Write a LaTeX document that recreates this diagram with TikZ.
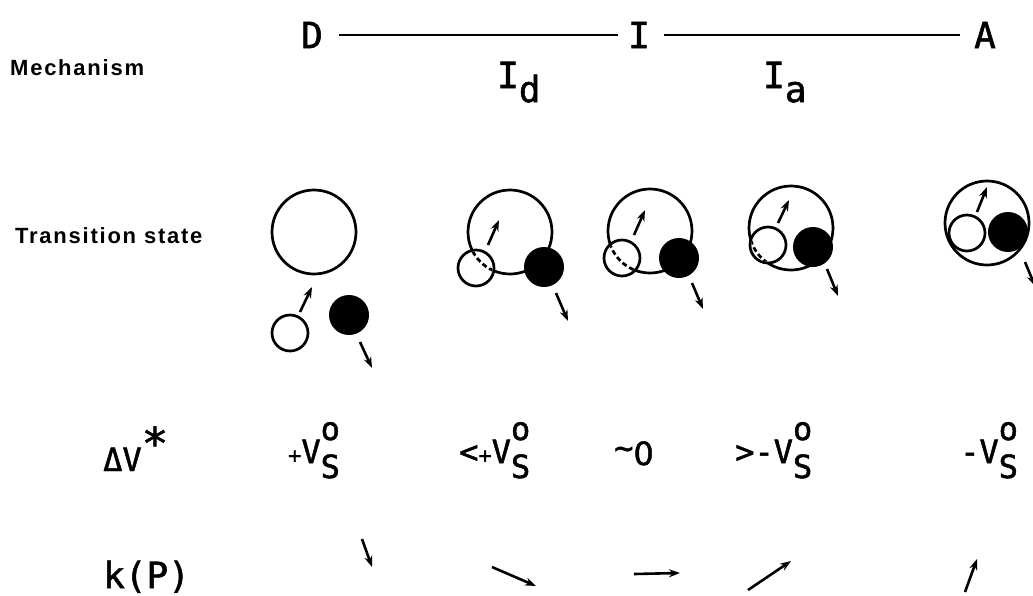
\documentclass[tikz,border=0pt]{standalone}
\usepackage{fontspec}
\setmainfont{Liberation Sans}
\newfontfamily\letterfont{DejaVu Sans Mono}[FakeBold=1.5]
\newfontfamily\zerofont{DejaVu Sans}[FakeBold=1.5]
\newfontfamily\labelfont{Liberation Sans Bold}[LetterSpace=8]
\usepackage{tikz}
\usetikzlibrary{arrows.meta}
% V with stacked subscript S and superscript o
\newcommand{\vso}{V\rlap{\raisebox{-15pt}{S}}\raisebox{23pt}{o}}
\newcommand{\smallplus}{{\fontsize{22}{22}\selectfont +}}

\begin{document}
\begin{tikzpicture}[
  x=1pt, y=-1pt,
  rowlabel/.style={font=\labelfont\fontsize{22}{22}\selectfont, anchor=west, inner sep=0pt},
  mech/.style={font=\letterfont\fontsize{36}{36}\selectfont, inner sep=0pt},
  vol/.style={font=\letterfont\fontsize{32}{32}\selectfont, anchor=base west, inner sep=0pt},
  bigc/.style={circle, draw, line width=2.7pt, minimum size=84pt, inner sep=0pt},
  openc/.style={circle, draw, fill=white, line width=2.7pt, minimum size=36pt, inner sep=0pt},
  fullc/.style={circle, fill=black, minimum size=40pt, inner sep=0pt},
  dashc/.style={dash pattern=on 5pt off 3pt, line width=2.7pt},
  ar/.style={-{Stealth[length=11pt, width=8pt]}, line width=2.6pt}
]
\useasboundingbox (0,0) rectangle (1033,595);

% Row labels
\node[rowlabel] (lmech) at (10,68) {Mechanism};
\node[rowlabel] (lts) at (15,236) {Transition state};

% Mechanism scale
\node[mech] (D) at (312,35) {D};
\node[mech] (I) at (639,35) {I};
\node[mech] (A) at (985,35) {A};
\draw[line width=1.8pt, shorten <=16pt, shorten >=10pt] (D.east) -- (I.west);
\draw[line width=1.8pt, shorten <=14pt, shorten >=14pt] (I.east) -- (A.west);
\node[mech, anchor=base west] (Id) at (497,88) {I\raisebox{-14pt}{d}};
\node[mech, anchor=base west] (Ia) at (763,88) {I\raisebox{-14pt}{a}};

% Transition state: D
\node[bigc] (b1) at (314,232) {};
\node[openc] (s1) at (290,333) {};
\node[fullc] (f1) at (349,315) {};
\coordinate (u1s) at (300,312); \coordinate (u1e) at (312,287);
\coordinate (d1s) at (360,342); \coordinate (d1e) at (372,368);
\draw[ar] (u1s) -- (u1e);
\draw[ar] (d1s) -- (d1e);

% Transition state: Id
\node[bigc] (b2) at (510,232) {};
\node[openc] (s2) at (476,268) {};
\begin{scope}
  \clip (s2) circle (16.5pt);
  \draw[dashc] (b2) circle (42pt);
\end{scope}
\node[fullc] (f2) at (544,267) {};
\coordinate (u2s) at (488,245); \coordinate (u2e) at (499,220);
\coordinate (d2s) at (556,293); \coordinate (d2e) at (568,321);
\draw[ar] (u2s) -- (u2e);
\draw[ar] (d2s) -- (d2e);

% Transition state: I
\node[bigc] (b3) at (650,231) {};
\node[openc] (s3) at (622,258) {};
\begin{scope}
  \clip (s3) circle (16.5pt);
  \draw[dashc] (b3) circle (42pt);
\end{scope}
\node[fullc] (f3) at (679,258) {};
\coordinate (u3s) at (634,235); \coordinate (u3e) at (645,210);
\coordinate (d3s) at (692,283); \coordinate (d3e) at (703,309);
\draw[ar] (u3s) -- (u3e);
\draw[ar] (d3s) -- (d3e);

% Transition state: Ia
\node[bigc] (b4) at (791,228) {};
\node[openc] (s4) at (768,245) {};
\begin{scope}
  \clip (s4) circle (16.5pt);
  \draw[dashc] (b4) circle (42pt);
\end{scope}
\node[fullc] (f4) at (813,247) {};
\coordinate (u4s) at (778,223); \coordinate (u4e) at (789,200);
\coordinate (d4s) at (827,269); \coordinate (d4e) at (838,296);
\draw[ar] (u4s) -- (u4e);
\draw[ar] (d4s) -- (d4e);

% Transition state: A
\node[bigc] (b5) at (987,223) {};
\node[openc] (s5) at (967,233) {};
\node[fullc] (f5) at (1008,232) {};
\coordinate (u5s) at (977,212); \coordinate (u5e) at (987,187);
\coordinate (d5s) at (1025,262); \coordinate (d5e) at (1035,286);
\draw[ar] (u5s) -- (u5e);
\draw[ar] (d5s) -- (d5e);

% Activation volumes
\node[vol] (dv) at (103,471) {ΔV\raisebox{12pt}{\fontsize{44}{44}\selectfont *}};
\node[vol] (v1) at (288,463) {\smallplus\vso};
\node[vol] (v2) at (459,463) {<\smallplus\vso};
\node[vol] (v3) at (614,465) {\raisebox{6pt}{\textasciitilde}{\zerofont 0}};
\node[vol] (v4) at (735,463) {>-\vso};
\node[vol] (v5) at (960,463) {-\vso};

% Pressure dependence
\node[mech, anchor=base west] (kp) at (103,588) {k(P)};
\coordinate (k1s) at (362,539); \coordinate (k1e) at (372,567);
\coordinate (k2s) at (492,567); \coordinate (k2e) at (536,586);
\coordinate (k3s) at (634,574); \coordinate (k3e) at (680,573);
\coordinate (k4s) at (748,590); \coordinate (k4e) at (791,561);
\coordinate (k5s) at (965,592); \coordinate (k5e) at (977,559);
\draw[ar] (k1s) -- (k1e);
\draw[ar] (k2s) -- (k2e);
\draw[ar] (k3s) -- (k3e);
\draw[ar] (k4s) -- (k4e);
\draw[ar] (k5s) -- (k5e);
\end{tikzpicture}
\end{document}
